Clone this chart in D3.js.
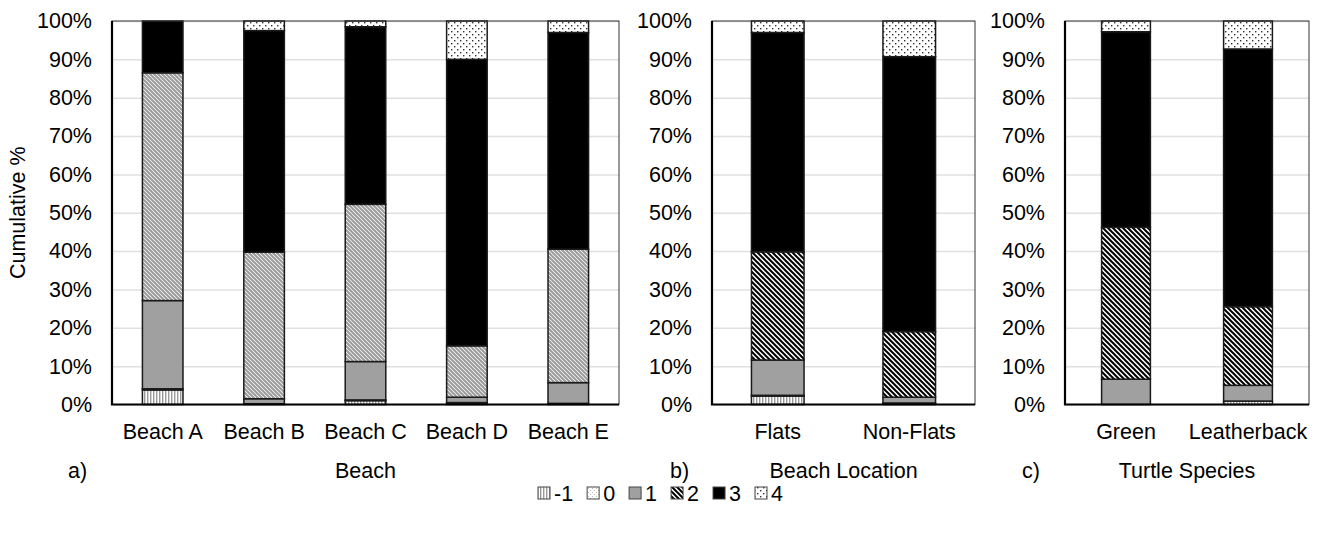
<!DOCTYPE html>
<html>
<head>
<meta charset="utf-8">
<script src="https://cdn.jsdelivr.net/npm/d3@7"></script>
<style>
  body { margin: 0; background: #fff; }
  svg { display: block; font-family: "Liberation Sans", Arial, sans-serif; }
</style>
</head>
<body>
<svg id="chart" width="1321" height="533"></svg>
<script>
// score levels, bottom to top of each stack
const levels = ['-1', '0', '1', '2', '3', '4'];

// a) Beach
const beachCats = ['Beach A', 'Beach B', 'Beach C', 'Beach D', 'Beach E'];
const beachNeg1 = [3.8, 0, 1.0, 0.3, 0];
const beach0 = [0.3, 0.2, 0.2, 0.2, 0.3];
const beach1 = [23.0, 1.3, 10.0, 1.4, 5.4];
const beach2 = [59.4, 38.2, 41.0, 13.4, 34.8];
const beach3 = [13.5, 57.8, 46.3, 74.7, 56.5];
const beach4 = [0, 2.5, 1.5, 10.0, 3.0];

// b) Beach Location
const locCats = ['Flats', 'Non-Flats'];
const locNeg1 = [2.2, 0.2];
const loc0 = [0.2, 0.2];
const loc1 = [9.2, 1.5];
const loc2 = [28.2, 17.1];
const loc3 = [57.2, 71.7];
const loc4 = [3.0, 9.3];

// c) Turtle Species
const spCats = ['Green', 'Leatherback'];
const spNeg1 = [0, 0.9];
const sp0 = [0, 0];
const sp1 = [6.6, 4.1];
const sp2 = [39.6, 20.5];
const sp3 = [51.0, 67.2];
const sp4 = [2.8, 7.3];

const yTicks = [0, 10, 20, 30, 40, 50, 60, 70, 80, 90, 100];

const FONT = 21.5;
const svg = d3.select('#chart');
const defs = svg.append('defs');

// fill patterns
function stripePattern(id, size, draw) {
  const p = defs.append('pattern')
    .attr('id', id)
    .attr('patternUnits', 'userSpaceOnUse')
    .attr('width', size)
    .attr('height', size);
  p.append('rect').attr('width', size).attr('height', size).attr('fill', '#fff');
  draw(p);
}
stripePattern('pat-vert', 3, p => {
  p.append('rect').attr('x', 0).attr('width', 1.4).attr('height', 3).attr('fill', '#999');
});
stripePattern('pat-light', 4, p => {
  p.append('rect').attr('x', 0).attr('y', 0).attr('width', 1).attr('height', 1).attr('fill', '#bbb');
  p.append('rect').attr('x', 2).attr('y', 2).attr('width', 1).attr('height', 1).attr('fill', '#bbb');
});
// diagonal running top-left to bottom-right
function diagPattern(id, size, color, width) {
  stripePattern(id, size, p => {
    p.append('path')
      .attr('d', `M${-size},0 L${size},${size * 2} M0,${-size} L${size * 2},${size} M${-size},${-size} L${size * 2},${size * 2}`)
      .attr('stroke', color)
      .attr('stroke-width', width);
  });
}
diagPattern('pat-diag-light', 4, '#9a9a9a', 2);
diagPattern('pat-diag-dark', 5, '#000', 2);
stripePattern('pat-dots', 6, p => {
  p.append('rect').attr('x', 1).attr('y', 1).attr('width', 1.4).attr('height', 1.4).attr('fill', '#333');
  p.append('rect').attr('x', 4).attr('y', 4).attr('width', 1.4).attr('height', 1.4).attr('fill', '#333');
});

function fills(diag) {
  return {
    '-1': 'url(#pat-vert)',
    '0': 'url(#pat-light)',
    '1': '#a0a0a0',
    '2': diag,
    '3': '#000',
    '4': 'url(#pat-dots)'
  };
}

const yTop = 21;
const yBottom = 404.5;
const y = d3.scaleLinear().domain([0, 100]).range([yBottom, yTop]);

const panels = [
  {
    x0: 112, x1: 619, cats: beachCats,
    series: [beachNeg1, beach0, beach1, beach2, beach3, beach4],
    fill: fills('url(#pat-diag-light)'),
    tag: 'a)', tagX: 68, title: 'Beach'
  },
  {
    x0: 712, x1: 975, cats: locCats,
    series: [locNeg1, loc0, loc1, loc2, loc3, loc4],
    fill: fills('url(#pat-diag-dark)'),
    tag: 'b)', tagX: 670, title: 'Beach Location'
  },
  {
    x0: 1065, x1: 1309, cats: spCats,
    series: [spNeg1, sp0, sp1, sp2, sp3, sp4],
    fill: fills('url(#pat-diag-dark)'),
    tag: 'c)', tagX: 1022, title: 'Turtle Species'
  }
];

panels.forEach(pn => {
  const g = svg.append('g');
  const x = d3.scaleBand()
    .domain(pn.cats)
    .range([pn.x0, pn.x1])
    .paddingInner(0.6)
    .paddingOuter(0.3);

  // gridlines + y labels
  const yAxis = g.append('g')
    .attr('transform', `translate(${pn.x0},0)`)
    .call(d3.axisLeft(y).tickValues(yTicks).tickSize(-(pn.x1 - pn.x0)).tickPadding(20).tickFormat(d => d + '%'));
  yAxis.select('.domain').remove();
  yAxis.selectAll('line').attr('stroke', '#e0e0e0').attr('stroke-width', 1.5);
  yAxis.selectAll('text').attr('font-size', FONT).attr('fill', '#000')
    .attr('font-family', '"Liberation Sans", Arial, sans-serif');

  // stacked bars
  pn.cats.forEach((c, ci) => {
    let base = 0;
    levels.forEach((lv, li) => {
      const v = pn.series[li][ci];
      if (v <= 0) return;
      g.append('rect')
        .attr('x', x(c))
        .attr('width', x.bandwidth())
        .attr('y', y(base + v))
        .attr('height', y(base) - y(base + v))
        .attr('fill', pn.fill[lv])
        .attr('stroke', '#1a1a1a')
        .attr('stroke-width', 1.5);
      base += v;
    });
  });

  // plot frame
  g.append('rect')
    .attr('x', pn.x0).attr('y', yTop)
    .attr('width', pn.x1 - pn.x0).attr('height', yBottom - yTop)
    .attr('fill', 'none').attr('stroke', '#333').attr('stroke-width', 1);
  g.append('path')
    .attr('d', `M${pn.x0},${yTop} V${yBottom} H${pn.x1}`)
    .attr('fill', 'none').attr('stroke', '#000').attr('stroke-width', 2.2);

  // category labels
  const xAxis = g.append('g')
    .attr('transform', `translate(0,${yBottom})`)
    .call(d3.axisBottom(x).tickSize(0).tickPadding(19));
  xAxis.select('.domain').remove();
  xAxis.selectAll('text').attr('font-size', FONT).attr('fill', '#000')
    .attr('font-family', '"Liberation Sans", Arial, sans-serif');

  // panel tag and axis title
  g.append('text').attr('x', pn.tagX).attr('y', 478)
    .attr('font-size', FONT).text(pn.tag);
  g.append('text').attr('x', (pn.x0 + pn.x1) / 2).attr('y', 478)
    .attr('text-anchor', 'middle').attr('font-size', FONT).text(pn.title);
});

// y axis title
svg.append('text')
  .attr('transform', `translate(25,${(yTop + yBottom) / 2}) rotate(-90)`)
  .attr('text-anchor', 'middle')
  .attr('font-size', FONT)
  .text('Cumulative %');

// legend
const legendFill = fills('url(#pat-diag-dark)');
const legend = svg.append('g');
let lx = 538;
levels.forEach(lv => {
  legend.append('rect')
    .attr('x', lx).attr('y', 487)
    .attr('width', 12).attr('height', 12)
    .attr('fill', legendFill[lv])
    .attr('stroke', '#444').attr('stroke-width', 1);
  const t = legend.append('text')
    .attr('x', lx + 16).attr('y', 501)
    .attr('font-size', FONT).text(lv);
  lx += 16 + t.node().getComputedTextLength() + 14;
});
</script>
</body>
</html>
